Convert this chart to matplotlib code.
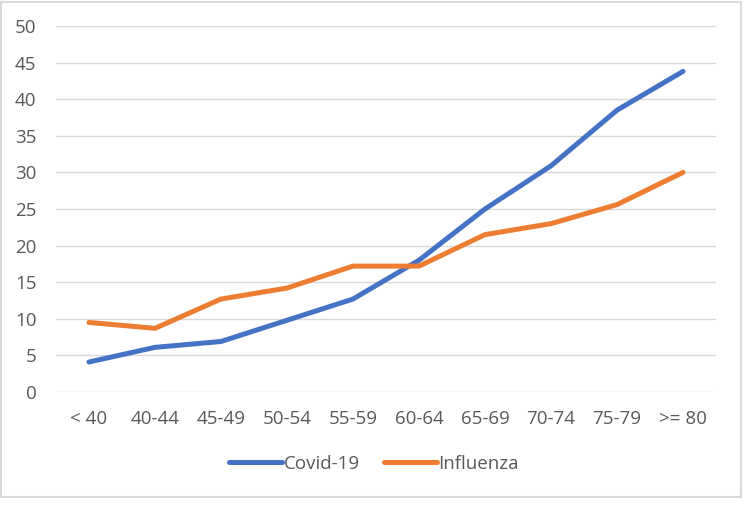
import matplotlib
matplotlib.use("Agg")
import matplotlib.pyplot as plt
from matplotlib.patches import Rectangle

# age groups and rates
categories = ["< 40", "40-44", "45-49", "50-54", "55-59",
              "60-64", "65-69", "70-74", "75-79", ">= 80"]
covid = [4.1, 6.1, 6.9, 9.8, 12.7, 18.0, 25.0, 30.9, 38.5, 43.8]
influenza = [9.5, 8.7, 12.7, 14.2, 17.2, 17.2, 21.5, 23.0, 25.6, 30.0]
yticks = [0, 5, 10, 15, 20, 25, 30, 35, 40, 45, 50]

plt.rcParams['font.family'] = ['Open Sans', 'DejaVu Sans']
text_col = "#595959"

fig = plt.figure(figsize=(7.49, 5.05), dpi=100)
ax = fig.add_axes([56/749, 1-392/505, 660/749, 366/505])

x = range(len(categories))
ax.plot(x, covid, color="#4472C4", lw=3.6, label="Covid-19", solid_capstyle="round")
ax.plot(x, influenza, color="#ED7D31", lw=3.6, label="Influenza", solid_capstyle="round")

ax.set_xlim(-0.5, len(categories) - 0.5)
ax.set_ylim(0, 50)
ax.set_yticks(yticks)
ax.set_xticks(list(x))
ax.set_xticklabels(categories)
ax.grid(axis="y", color="#D9D9D9", lw=1)
ax.set_axisbelow(True)
for s in ax.spines.values():
    s.set_visible(False)
ax.tick_params(length=0, labelsize=13.5, colors=text_col)
ax.tick_params(axis="x", pad=13)
ax.tick_params(axis="y", pad=14)

leg = fig.legend(loc="center", bbox_to_anchor=(374/749, 1-464/505), ncol=2,
                 frameon=False, fontsize=13.5, handlelength=2.8,
                 handletextpad=0.1, columnspacing=1.3)
for t in leg.get_texts():
    t.set_color(text_col)

fig.patches.append(Rectangle((1/749, 1-497/505), 740/749, 495/505,
                             transform=fig.transFigure, fill=False,
                             edgecolor="#D9D9D9", lw=1.5))

fig.savefig("out.png", dpi=100)
